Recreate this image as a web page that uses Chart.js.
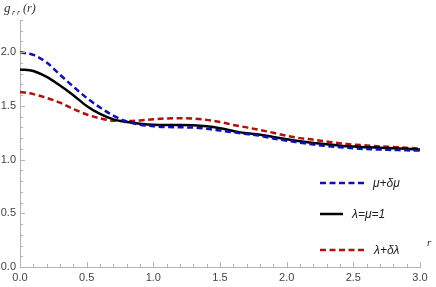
<!DOCTYPE html>
<html>
<head>
<meta charset="utf-8">
<script src="https://cdn.jsdelivr.net/npm/chart.js@4/dist/chart.umd.min.js"></script>
<style>
  html, body { margin: 0; padding: 0; background: #fff; }
  #wrap { width: 436px; height: 287px; }
</style>
</head>
<body>
<div id="wrap"><canvas id="chart"></canvas></div>
<script>
// r grid
const rValues = [0.0, 0.1, 0.2, 0.3, 0.4, 0.5, 0.6, 0.7, 0.8, 0.9,
                 1.0, 1.1, 1.2, 1.3, 1.4, 1.5, 1.6, 1.7, 1.8, 1.9,
                 2.0, 2.1, 2.2, 2.3, 2.4, 2.5, 2.6, 2.7, 2.8, 2.9, 3.0];

// mu + delta mu (blue dashed)
const gMu = [2.00, 1.975, 1.905, 1.79, 1.68, 1.575, 1.485, 1.41, 1.355, 1.325,
             1.311, 1.303, 1.301, 1.298, 1.287, 1.27, 1.255, 1.238, 1.222, 1.196,
             1.176, 1.158, 1.14, 1.127, 1.115, 1.105, 1.098, 1.093, 1.09, 1.086, 1.084];

// lambda = mu = 1 (black solid)
const gBase = [1.84, 1.825, 1.77, 1.69, 1.60, 1.50, 1.425, 1.375, 1.35, 1.335,
               1.325, 1.323, 1.323, 1.32, 1.31, 1.292, 1.267, 1.245, 1.232, 1.21,
               1.19, 1.17, 1.155, 1.143, 1.13, 1.121, 1.115, 1.11, 1.105, 1.1, 1.095];

// lambda + delta lambda (red dashed)
const gLambda = [1.63, 1.61, 1.575, 1.53, 1.472, 1.42, 1.385, 1.362, 1.36, 1.365,
                 1.376, 1.383, 1.385, 1.382, 1.37, 1.35, 1.323, 1.3, 1.276, 1.25,
                 1.222, 1.2, 1.185, 1.168, 1.152, 1.14, 1.132, 1.123, 1.118, 1.11, 1.103];

const seriesLabels = ['\u03bc+\u03b4\u03bc', '\u03bb=\u03bc=1', '\u03bb+\u03b4\u03bb'];
const xTicks = [0, 0.5, 1.0, 1.5, 2.0, 2.5, 3.0];
const yTicks = [0, 0.5, 1.0, 1.5, 2.0];

const toPoints = ys => rValues.map((r, i) => ({x: r, y: ys[i]}));

const axisGray = '#b4b4b4';

// inward minor/major ticks, Mathematica style
const tickPlugin = {
    id: 'inwardTicks',
    afterDraw(chart) {
        const ctx = chart.ctx;
        const xs = chart.scales.x, ys = chart.scales.y;
        const area = chart.chartArea;
        ctx.save();
        ctx.strokeStyle = axisGray;
        ctx.lineWidth = 1;
        for (let i = 0; i <= 30; i++) {
            const v = i / 10;
            const px = Math.round(xs.getPixelForValue(v)) + 0.5;
            const len = (i % 5 === 0) ? 5 : 3;
            ctx.beginPath();
            ctx.moveTo(px, area.bottom);
            ctx.lineTo(px, area.bottom - len);
            ctx.stroke();
        }
        for (let i = 0; i <= 23; i++) {
            const v = i / 10;
            const py = Math.round(ys.getPixelForValue(v)) + 0.5;
            const len = (i % 5 === 0) ? 5 : 3;
            ctx.beginPath();
            ctx.moveTo(area.left, py);
            ctx.lineTo(area.left + len, py);
            ctx.stroke();
        }
        ctx.restore();
    }
};

// legend inside the plot, lower right
const legendPlugin = {
    id: 'insideLegend',
    afterDraw(chart) {
        const ctx = chart.ctx;
        const rows = [
            {y: 183, x0: 320, x1: 365, tx: 373},
            {y: 214, x0: 320, x1: 343, tx: 352},
            {y: 250, x0: 320, x1: 365, tx: 374}
        ];
        ctx.save();
        chart.data.datasets.forEach((ds, i) => {
            const row = rows[i];
            ctx.strokeStyle = ds.borderColor;
            ctx.lineWidth = ds.borderWidth;
            ctx.setLineDash(ds.borderDash || []);
            ctx.beginPath();
            ctx.moveTo(row.x0, row.y);
            ctx.lineTo(row.x1, row.y);
            ctx.stroke();
            ctx.setLineDash([]);
            ctx.fillStyle = '#222';
            ctx.font = 'italic 12px "Liberation Sans", Arial, sans-serif';
            ctx.textBaseline = 'middle';
            ctx.textAlign = 'left';
            ctx.fillText(ds.label, row.tx, row.y + 1);
        });
        ctx.restore();
    }
};

// axis titles g_{rr}(r) and r
const titlePlugin = {
    id: 'axisTitles',
    afterDraw(chart) {
        const ctx = chart.ctx;
        ctx.save();
        ctx.fillStyle = '#333';
        ctx.textBaseline = 'alphabetic';
        ctx.textAlign = 'left';
        ctx.font = 'italic 13px "Liberation Serif", "DejaVu Serif", serif';
        ctx.fillText('g', 4, 12);
        ctx.font = 'italic 8px "Liberation Serif", "DejaVu Serif", serif';
        ctx.fillText('r r', 12, 15);
        ctx.font = 'italic 12px "Liberation Serif", "DejaVu Serif", serif';
        ctx.fillText('(r)', 23, 12);
        ctx.font = 'italic 11px "Liberation Serif", "DejaVu Serif", serif';
        ctx.fillText('r', 427, 246);
        ctx.restore();
    }
};

const tickFont = {family: '"Liberation Sans", Arial, sans-serif', size: 11};

new Chart(document.getElementById('chart'), {
    type: 'line',
    data: {
        datasets: [{
            label: seriesLabels[0],
            data: toPoints(gMu),
            borderColor: '#1010b0',
            borderWidth: 2.5,
            borderDash: [6, 3.5],
            pointRadius: 0,
            fill: false,
            cubicInterpolationMode: 'monotone'
        }, {
            label: seriesLabels[1],
            data: toPoints(gBase),
            borderColor: '#000000',
            borderWidth: 2.5,
            pointRadius: 0,
            fill: false,
            cubicInterpolationMode: 'monotone'
        }, {
            label: seriesLabels[2],
            data: toPoints(gLambda),
            borderColor: '#b01010',
            borderWidth: 2.5,
            borderDash: [6, 3.5],
            pointRadius: 0,
            fill: false,
            cubicInterpolationMode: 'monotone'
        }]
    },
    options: {
        responsive: true,
        maintainAspectRatio: false,
        animation: false,
        layout: {padding: {top: 20, right: 16, left: 0, bottom: 0}},
        plugins: {
            legend: {display: false},
            tooltip: {enabled: false}
        },
        scales: {
            x: {
                type: 'linear',
                min: 0,
                max: 3,
                afterFit: s => { s.height = 20; },
                afterBuildTicks: s => { s.ticks = xTicks.map(v => ({value: v})); },
                grid: {display: false, drawTicks: false},
                border: {display: true, color: axisGray, width: 1},
                ticks: {
                    padding: 4,
                    color: '#444',
                    font: tickFont,
                    maxRotation: 0,
                    callback: v => v.toFixed(1)
                }
            },
            y: {
                type: 'linear',
                min: 0,
                max: 2.3,
                afterFit: s => { s.width = 20; },
                afterBuildTicks: s => { s.ticks = yTicks.map(v => ({value: v})); },
                grid: {display: false, drawTicks: false},
                border: {display: true, color: axisGray, width: 1},
                ticks: {
                    padding: 4,
                    color: '#444',
                    font: tickFont,
                    callback: v => v.toFixed(1)
                }
            }
        }
    },
    plugins: [tickPlugin, legendPlugin, titlePlugin]
});
</script>
</body>
</html>
